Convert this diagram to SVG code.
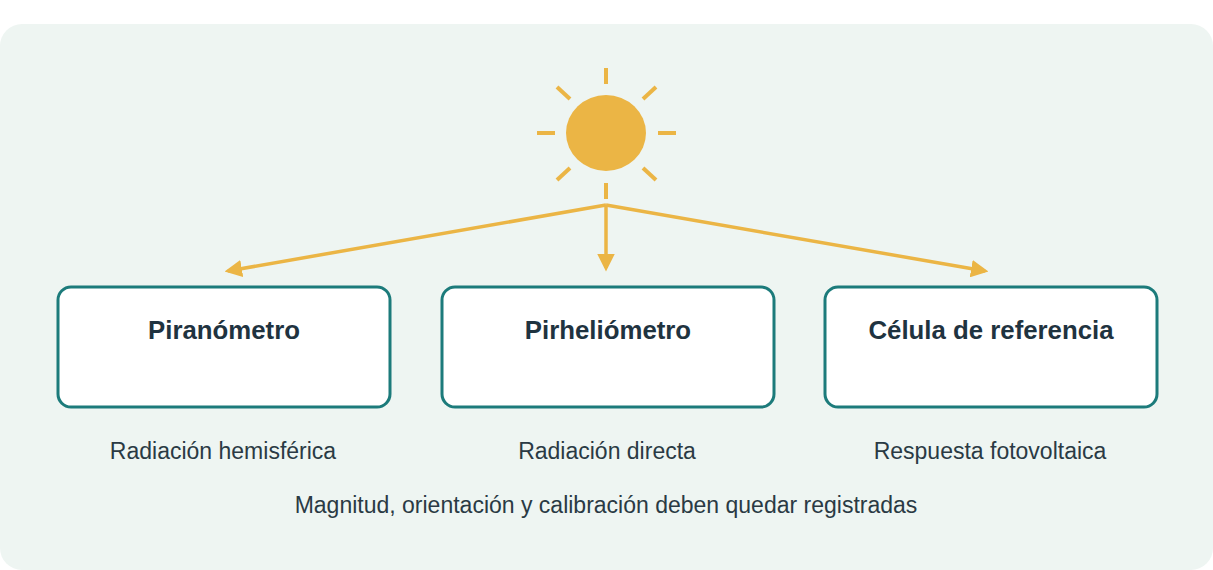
<svg xmlns="http://www.w3.org/2000/svg" width="1213" height="570" viewBox="0 0 1213 570">
<style>
.box{fill:#fff;stroke:#1c7b7b;stroke-width:3}
.t{font-family:"Liberation Sans",Arial,sans-serif;font-size:25.8px;font-weight:bold;fill:#1f3340;text-anchor:middle}
.s{font-family:"Liberation Sans",Arial,sans-serif;font-size:23px;fill:#2a3a44;text-anchor:middle}
.ray{stroke:#ebb545;stroke-width:4}
.c{stroke:#ebb545;stroke-width:3.5;fill:none;marker-end:url(#a)}
</style>
<defs><marker id="a" markerWidth="5" markerHeight="5" refX="4" refY="2.5" orient="auto"><path d="M0,0 L5,2.5 L0,5 Z" fill="#ebb545"/></marker></defs>
<rect x="0" y="24" width="1213" height="546" rx="22" fill="#eef5f2"/>
<g id="sun">
<ellipse cx="606" cy="133" rx="40" ry="38" fill="#ebb545"/>
<g class="ray">
<line x1="606" y1="68" x2="606" y2="84"/><line x1="606" y1="183" x2="606" y2="199"/>
<line x1="537" y1="133" x2="555" y2="133"/><line x1="658" y1="133" x2="676" y2="133"/>
<line x1="557" y1="87" x2="570" y2="99"/><line x1="656" y1="87" x2="643" y2="99"/>
<line x1="570" y1="168" x2="557" y2="180"/><line x1="643" y1="168" x2="656" y2="180"/>
</g></g>
<g id="connectors">
<path class="c" d="M606,205 L228,271"/>
<path class="c" d="M606,205 L606,268"/>
<path class="c" d="M606,205 L985,271"/>
</g>
<g id="piranometro"><rect class="box" x="58" y="287" width="332" height="120" rx="13"/><text class="t" x="224" y="339">Piranómetro</text></g>
<g id="pirheliometro"><rect class="box" x="442" y="287" width="332" height="120" rx="13"/><text class="t" x="608" y="339">Pirheliómetro</text></g>
<g id="celula"><rect class="box" x="825" y="287" width="332" height="120" rx="13"/><text class="t" x="991" y="339">Célula de referencia</text></g>
<text class="s" x="223" y="459">Radiación hemisférica</text>
<text class="s" x="607" y="459">Radiación directa</text>
<text class="s" x="990" y="459">Respuesta fotovoltaica</text>
<text class="s" x="606" y="513">Magnitud, orientación y calibración deben quedar registradas</text>
</svg>
